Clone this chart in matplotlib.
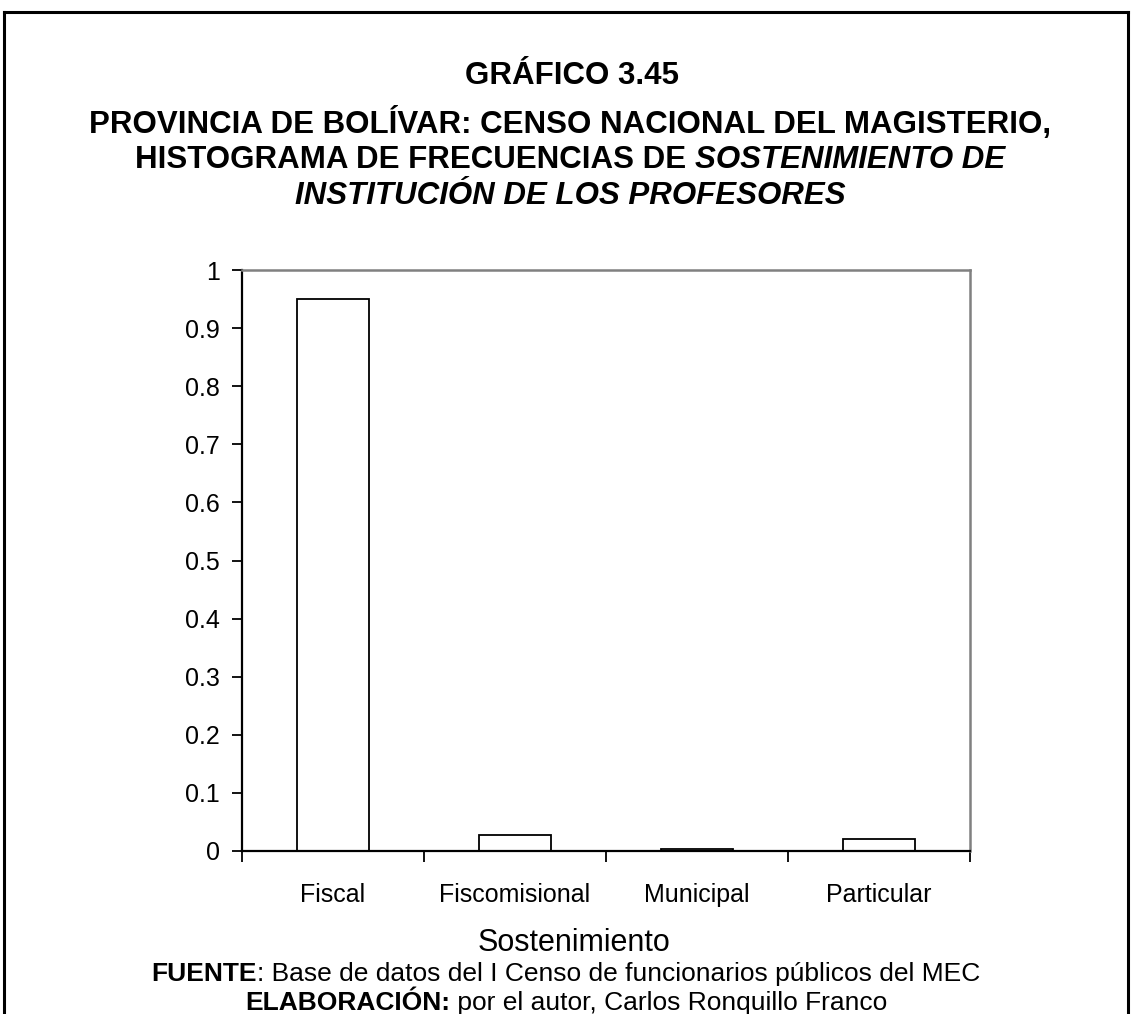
import matplotlib
matplotlib.use("Agg")
import matplotlib.pyplot as plt

plt.rcParams['font.family'] = ['Liberation Sans', 'DejaVu Sans']

categories = ["Fiscal", "Fiscomisional", "Municipal", "Particular"]
frequencies = [0.95, 0.028, 0.004, 0.021]
y_ticks = [0, 0.1, 0.2, 0.3, 0.4, 0.5, 0.6, 0.7, 0.8, 0.9, 1]
y_tick_labels = ["0", "0.1", "0.2", "0.3", "0.4", "0.5", "0.6", "0.7", "0.8", "0.9", "1"]

W, H = 1133, 1014
fig = plt.figure(figsize=(W / 100, H / 100), dpi=100)

# page frame (bottom is cut off in the original)
frame = dict(color="black", lw=2.2, transform=fig.transFigure)
fig.add_artist(plt.Line2D([4 / W, 4 / W], [0, 1 - 12 / H], **frame))
fig.add_artist(plt.Line2D([1128 / W, 1128 / W], [0, 1 - 12 / H], **frame))
fig.add_artist(plt.Line2D([4 / W, 1128 / W], [1 - 12 / H, 1 - 12 / H], **frame))

ax = fig.add_axes([242 / W, 1 - 851 / H, (970 - 242) / W, (851 - 270) / H])
x = list(range(len(categories)))
ax.bar(x, frequencies, width=0.4, facecolor="white", edgecolor="black", lw=1.3)
ax.set_xlim(-0.5, len(categories) - 0.5)
ax.set_ylim(0, 1)
ax.set_yticks(y_ticks)
ax.set_yticklabels(y_tick_labels, fontsize=18)
ax.set_xticks([i - 0.5 for i in range(len(categories) + 1)])
ax.set_xticklabels([])
ax.set_xticks(x, minor=True)
ax.set_xticklabels(categories, minor=True, fontsize=18)
ax.tick_params(axis="x", which="minor", length=0, pad=23)
ax.tick_params(axis="x", which="major", direction="out", length=8, width=1.3)
ax.tick_params(axis="y", direction="out", length=7, width=1.3, pad=9)
for s in ["left", "bottom"]:
    ax.spines[s].set_color("black")
    ax.spines[s].set_linewidth(1.6)
for s in ["top", "right"]:
    ax.spines[s].set_color("#808080")
    ax.spines[s].set_linewidth(1.8)

fig.text(574 / W, 1 - 943 / H, "Sostenimiento", fontsize=22, ha="center", va="center")

fig.canvas.draw()
renderer = fig.canvas.get_renderer()


def mixed_line(y_px, parts, size, xc=W / 2):
    """Centered line built from (text, style) pieces."""
    texts = []
    for s, style in parts:
        t = fig.text(0, 1 - y_px / H, s, fontsize=size, weight="bold" if "b" in style else "normal",
                     style="italic" if "i" in style else "normal", va="center", ha="left")
        texts.append(t)
    widths = [t.get_window_extent(renderer).width for t in texts]
    x0 = xc - sum(widths) / 2
    for t, w in zip(texts, widths):
        t.set_x(x0 / W)
        x0 += w


mixed_line(76, [("GRÁFICO 3.45", "b")], 22.5, 572)
mixed_line(124, [("PROVINCIA DE BOLÍVAR: CENSO NACIONAL DEL MAGISTERIO,", "b")], 22.5, 570)
mixed_line(160, [("HISTOGRAMA DE FRECUENCIAS DE ", "b"), ("SOSTENIMIENTO DE", "bi")], 22.5, 570)
mixed_line(196, [("INSTITUCIÓN DE LOS PROFESORES", "bi")], 22.5, 570)
mixed_line(974, [("FUENTE", "b"), (": Base de datos del I Censo de funcionarios públicos del MEC", "")], 19, 566)
mixed_line(1003, [("ELABORACIÓN:", "b"), (" por el autor, Carlos Ronquillo Franco", "")], 19, 566)

fig.savefig("out.png", dpi=100)
